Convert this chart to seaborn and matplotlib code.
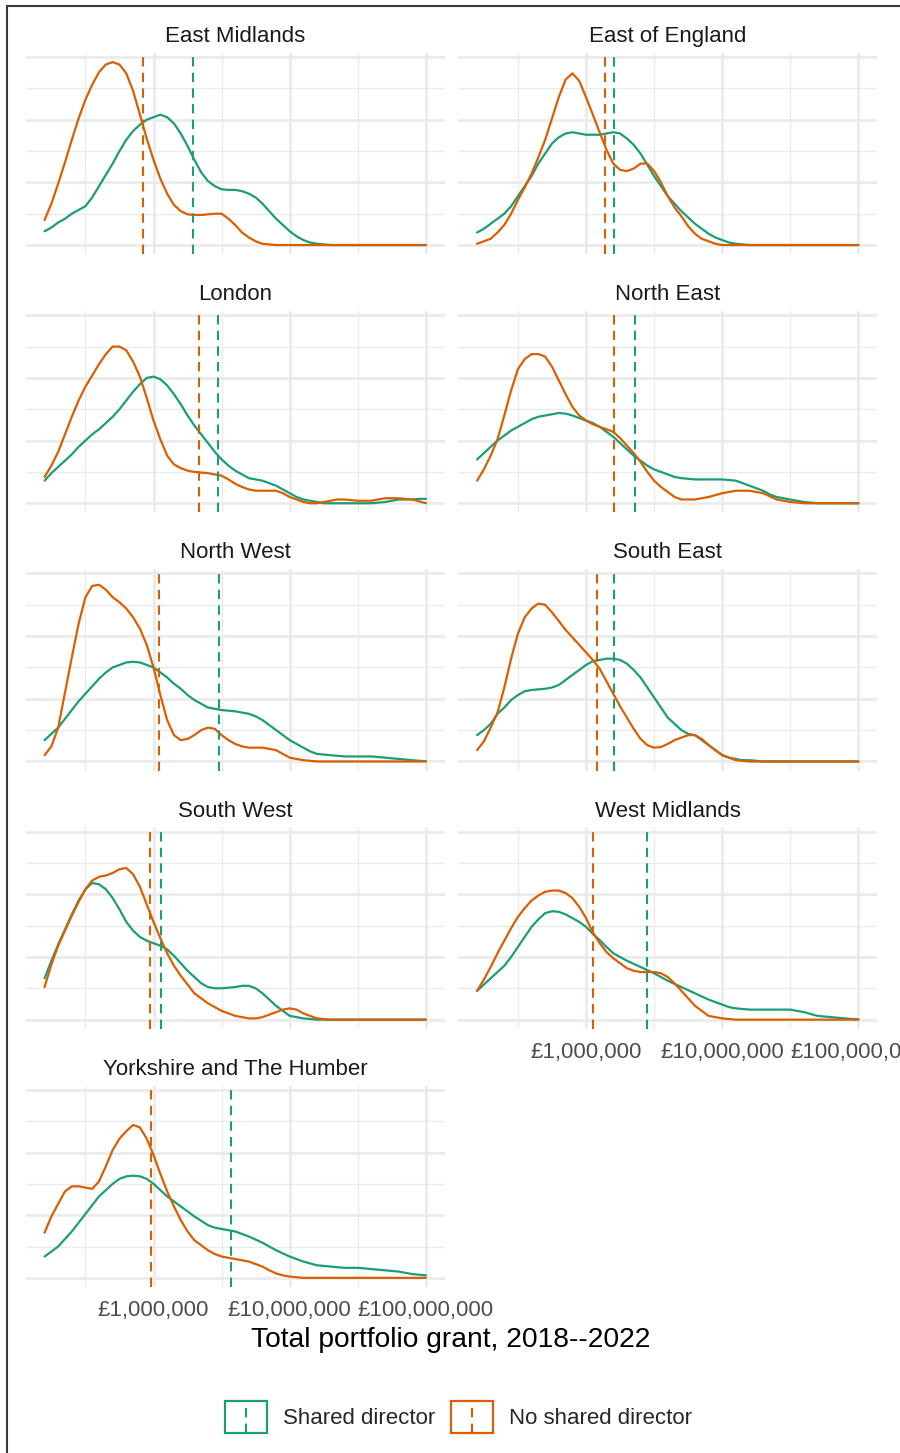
import matplotlib
matplotlib.use("Agg")
import matplotlib.pyplot as plt
import pandas as pd
import seaborn as sns
from matplotlib.ticker import FixedLocator, FuncFormatter, NullFormatter, MultipleLocator
from matplotlib.patches import Rectangle
from matplotlib.lines import Line2D
from matplotlib.legend_handler import HandlerBase

# ---------------------------------------------------------------------------
# Data: kernel density of log10(total portfolio grant) per region and group,
# evaluated on a common log10 grid, plus the group medians (in pounds).
# ---------------------------------------------------------------------------
log_grant = [5.20, 5.25, 5.30, 5.35, 5.40, 5.45, 5.50, 5.55, 5.60, 5.65,
             5.70, 5.75, 5.80, 5.85, 5.90, 5.95, 6.00, 6.05, 6.10, 6.15,
             6.20, 6.25, 6.30, 6.35, 6.40, 6.45, 6.50, 6.55, 6.60, 6.65,
             6.70, 6.75, 6.80, 6.85, 6.90, 6.95, 7.00, 7.05, 7.10, 7.15,
             7.20, 7.25, 7.30, 7.35, 7.40, 7.45, 7.50, 7.55, 7.60, 7.65,
             7.70, 7.75, 7.80, 7.85, 7.90, 7.95, 8.00]

regions = ["East Midlands", "East of England", "London", "North East", "North West",
           "South East", "South West", "West Midlands", "Yorkshire and The Humber"]

groups = ["Shared director", "No shared director"]
colours = {"Shared director": "#1B9E77", "No shared director": "#D95F02"}

east_midlands_shared = [0.11, 0.14, 0.18, 0.21, 0.25, 0.28, 0.31, 0.38, 0.47, 0.56,
                        0.65, 0.75, 0.84, 0.91, 0.96, 1.00, 1.02, 1.04, 1.02, 0.97,
                        0.89, 0.79, 0.68, 0.58, 0.51, 0.47, 0.445, 0.44, 0.44, 0.43,
                        0.41, 0.38, 0.33, 0.27, 0.21, 0.16, 0.11, 0.07, 0.04, 0.02,
                        0.01, 0.005, 0, 0, 0, 0, 0, 0, 0, 0,
                        0, 0, 0, 0, 0, 0, 0]
east_midlands_none = [0.20, 0.33, 0.49, 0.66, 0.84, 1.01, 1.16, 1.28, 1.38, 1.44,
                      1.46, 1.44, 1.37, 1.23, 1.04, 0.85, 0.68, 0.53, 0.41, 0.32,
                      0.27, 0.245, 0.24, 0.24, 0.245, 0.25, 0.25, 0.21, 0.16, 0.10,
                      0.06, 0.03, 0.01, 0.005, 0, 0, 0, 0, 0, 0,
                      0, 0, 0, 0, 0, 0, 0, 0, 0, 0,
                      0, 0, 0, 0, 0, 0, 0]

east_england_shared = [0.10, 0.13, 0.17, 0.21, 0.25, 0.31, 0.39, 0.47, 0.55, 0.65,
                       0.73, 0.81, 0.86, 0.89, 0.90, 0.89, 0.88, 0.88, 0.88, 0.89,
                       0.90, 0.89, 0.85, 0.80, 0.73, 0.64, 0.55, 0.47, 0.39, 0.33,
                       0.27, 0.22, 0.17, 0.13, 0.09, 0.06, 0.04, 0.02, 0.01, 0.005,
                       0, 0, 0, 0, 0, 0, 0, 0, 0, 0,
                       0, 0, 0, 0, 0, 0, 0]
east_england_none = [0.01, 0.03, 0.05, 0.10, 0.16, 0.25, 0.36, 0.46, 0.57, 0.70,
                     0.84, 1.01, 1.18, 1.32, 1.37, 1.31, 1.18, 1.04, 0.90, 0.76,
                     0.65, 0.60, 0.59, 0.61, 0.65, 0.65, 0.59, 0.50, 0.39, 0.30,
                     0.23, 0.15, 0.09, 0.05, 0.03, 0.01, 0, 0, 0, 0,
                     0, 0, 0, 0, 0, 0, 0, 0, 0, 0,
                     0, 0, 0, 0, 0, 0, 0]

london_shared = [0.18, 0.24, 0.29, 0.34, 0.39, 0.45, 0.50, 0.55, 0.59, 0.64,
                 0.69, 0.75, 0.82, 0.89, 0.95, 1.00, 1.01, 0.99, 0.94, 0.87,
                 0.79, 0.70, 0.62, 0.55, 0.48, 0.41, 0.35, 0.30, 0.26, 0.23,
                 0.20, 0.19, 0.18, 0.16, 0.14, 0.11, 0.08, 0.05, 0.03, 0.02,
                 0.01, 0.00, 0.00, 0.00, 0.00, 0.00, 0.00, 0.00, 0.00, 0.005,
                 0.01, 0.02, 0.03, 0.03, 0.03, 0.035, 0.035]
london_none = [0.21, 0.30, 0.41, 0.55, 0.69, 0.82, 0.93, 1.02, 1.11, 1.19,
               1.25, 1.25, 1.22, 1.13, 1.01, 0.84, 0.66, 0.51, 0.38, 0.31,
               0.28, 0.26, 0.25, 0.245, 0.24, 0.23, 0.22, 0.19, 0.155, 0.13,
               0.11, 0.10, 0.10, 0.10, 0.10, 0.08, 0.05, 0.03, 0.01, 0.00,
               0.00, 0.01, 0.02, 0.03, 0.03, 0.025, 0.02, 0.02, 0.02, 0.03,
               0.04, 0.04, 0.04, 0.035, 0.03, 0.015, 0.00]

north_east_shared = [0.35, 0.40, 0.45, 0.50, 0.54, 0.58, 0.61, 0.64, 0.67, 0.69,
                     0.70, 0.71, 0.72, 0.715, 0.70, 0.68, 0.66, 0.64, 0.61, 0.57,
                     0.53, 0.48, 0.43, 0.38, 0.34, 0.30, 0.27, 0.25, 0.23, 0.21,
                     0.20, 0.195, 0.19, 0.19, 0.19, 0.19, 0.19, 0.185, 0.18, 0.16,
                     0.14, 0.12, 0.10, 0.07, 0.05, 0.04, 0.03, 0.02, 0.01, 0.005,
                     0, 0, 0, 0, 0, 0, 0]
north_east_none = [0.18, 0.27, 0.38, 0.51, 0.70, 0.90, 1.07, 1.15, 1.19, 1.19,
                   1.17, 1.09, 0.98, 0.87, 0.77, 0.70, 0.66, 0.63, 0.61, 0.59,
                   0.57, 0.52, 0.46, 0.40, 0.33, 0.25, 0.18, 0.13, 0.09, 0.05,
                   0.03, 0.03, 0.03, 0.04, 0.05, 0.065, 0.08, 0.09, 0.10, 0.10,
                   0.10, 0.09, 0.08, 0.055, 0.03, 0.02, 0.01, 0.005, 0, 0,
                   0, 0, 0, 0, 0, 0, 0]

north_west_shared = [0.17, 0.22, 0.27, 0.34, 0.41, 0.48, 0.54, 0.60, 0.66, 0.71,
                     0.75, 0.77, 0.79, 0.795, 0.79, 0.77, 0.75, 0.71, 0.67, 0.62,
                     0.58, 0.53, 0.49, 0.46, 0.43, 0.42, 0.41, 0.405, 0.40, 0.39,
                     0.38, 0.36, 0.33, 0.29, 0.25, 0.21, 0.17, 0.14, 0.11, 0.08,
                     0.06, 0.055, 0.05, 0.045, 0.04, 0.04, 0.04, 0.04, 0.04, 0.035,
                     0.03, 0.025, 0.02, 0.015, 0.01, 0.005, 0.003]
north_west_none = [0.05, 0.12, 0.27, 0.55, 0.83, 1.10, 1.31, 1.40, 1.41, 1.37,
                   1.31, 1.27, 1.22, 1.15, 1.06, 0.93, 0.75, 0.53, 0.33, 0.21,
                   0.17, 0.18, 0.21, 0.25, 0.27, 0.26, 0.21, 0.17, 0.14, 0.12,
                   0.11, 0.11, 0.11, 0.10, 0.09, 0.06, 0.03, 0.02, 0.01, 0.005,
                   0, 0, 0, 0, 0, 0, 0, 0, 0, 0,
                   0, 0, 0, 0, 0, 0, 0]

south_east_shared = [0.21, 0.25, 0.30, 0.38, 0.43, 0.49, 0.53, 0.56, 0.57, 0.575,
                     0.58, 0.59, 0.61, 0.65, 0.69, 0.73, 0.77, 0.80, 0.81, 0.82,
                     0.82, 0.81, 0.78, 0.73, 0.67, 0.59, 0.51, 0.43, 0.35, 0.30,
                     0.25, 0.22, 0.21, 0.17, 0.13, 0.09, 0.05, 0.03, 0.02, 0.01,
                     0.01, 0.005, 0, 0, 0, 0, 0, 0, 0, 0,
                     0, 0, 0, 0, 0, 0, 0]
south_east_none = [0.09, 0.16, 0.27, 0.39, 0.59, 0.82, 1.02, 1.15, 1.22, 1.26,
                   1.25, 1.19, 1.12, 1.05, 0.99, 0.93, 0.87, 0.81, 0.74, 0.64,
                   0.54, 0.44, 0.35, 0.26, 0.18, 0.13, 0.11, 0.115, 0.14, 0.17,
                   0.19, 0.21, 0.21, 0.18, 0.13, 0.09, 0.05, 0.03, 0.01, 0.005,
                   0, 0, 0, 0, 0, 0, 0, 0, 0, 0,
                   0, 0, 0, 0, 0, 0, 0]

south_west_shared = [0.33, 0.47, 0.60, 0.72, 0.84, 0.95, 1.04, 1.09, 1.08, 1.04,
                     0.97, 0.88, 0.78, 0.71, 0.66, 0.63, 0.61, 0.59, 0.56, 0.51,
                     0.45, 0.39, 0.34, 0.29, 0.26, 0.25, 0.25, 0.255, 0.26, 0.27,
                     0.27, 0.25, 0.21, 0.16, 0.11, 0.07, 0.03, 0.02, 0.01, 0.005,
                     0, 0, 0, 0, 0, 0, 0, 0, 0, 0,
                     0, 0, 0, 0, 0, 0, 0]
south_west_none = [0.26, 0.44, 0.59, 0.71, 0.83, 0.94, 1.04, 1.11, 1.14, 1.15,
                   1.17, 1.20, 1.21, 1.16, 1.06, 0.92, 0.78, 0.65, 0.53, 0.43,
                   0.35, 0.28, 0.21, 0.17, 0.13, 0.10, 0.07, 0.05, 0.03, 0.02,
                   0.01, 0.01, 0.02, 0.04, 0.06, 0.08, 0.09, 0.08, 0.05, 0.03,
                   0.01, 0.005, 0, 0, 0, 0, 0, 0, 0, 0,
                   0, 0, 0, 0, 0, 0, 0]

west_midlands_shared = [0.23, 0.28, 0.33, 0.38, 0.43, 0.50, 0.58, 0.66, 0.74, 0.80,
                        0.85, 0.865, 0.86, 0.84, 0.81, 0.78, 0.74, 0.685, 0.635, 0.58,
                        0.53, 0.50, 0.47, 0.445, 0.42, 0.395, 0.37, 0.34, 0.31, 0.285,
                        0.26, 0.235, 0.21, 0.185, 0.16, 0.14, 0.12, 0.10, 0.09, 0.085,
                        0.08, 0.08, 0.08, 0.08, 0.08, 0.08, 0.08, 0.07, 0.06, 0.045,
                        0.03, 0.025, 0.02, 0.015, 0.01, 0.005, 0.003]
west_midlands_none = [0.23, 0.32, 0.42, 0.53, 0.63, 0.73, 0.82, 0.89, 0.95, 0.99,
                      1.02, 1.03, 1.03, 1.01, 0.97, 0.90, 0.81, 0.695, 0.61, 0.54,
                      0.49, 0.45, 0.41, 0.39, 0.38, 0.38, 0.38, 0.37, 0.34, 0.29,
                      0.23, 0.17, 0.11, 0.07, 0.03, 0.02, 0.01, 0.005, 0, 0,
                      0, 0, 0, 0, 0, 0, 0, 0, 0, 0,
                      0, 0, 0, 0, 0, 0, 0]

yorkshire_shared = [0.17, 0.21, 0.25, 0.31, 0.37, 0.44, 0.51, 0.58, 0.65, 0.70,
                    0.75, 0.79, 0.81, 0.815, 0.81, 0.79, 0.75, 0.70, 0.65, 0.61,
                    0.57, 0.53, 0.49, 0.455, 0.42, 0.40, 0.39, 0.38, 0.37, 0.35,
                    0.33, 0.305, 0.28, 0.25, 0.22, 0.195, 0.17, 0.15, 0.13, 0.115,
                    0.10, 0.095, 0.09, 0.085, 0.08, 0.08, 0.08, 0.075, 0.07, 0.065,
                    0.06, 0.055, 0.05, 0.04, 0.03, 0.025, 0.02]
yorkshire_none = [0.36, 0.49, 0.59, 0.69, 0.73, 0.73, 0.72, 0.71, 0.77, 0.89,
                  1.02, 1.11, 1.17, 1.22, 1.20, 1.11, 0.98, 0.83, 0.69, 0.57,
                  0.46, 0.37, 0.30, 0.26, 0.22, 0.19, 0.17, 0.16, 0.15, 0.14,
                  0.13, 0.11, 0.09, 0.06, 0.035, 0.02, 0.01, 0.005, 0, 0,
                  0, 0, 0, 0, 0, 0, 0, 0, 0, 0,
                  0, 0, 0, 0, 0, 0, 0]

median_shared = [1940000, 1600000, 2960000, 2290000, 3010000, 1610000, 1130000, 2820000, 3710000]
median_none = [830000, 1380000, 2150000, 1610000, 1090000, 1200000, 945000, 1130000, 960000]

density_shared = [east_midlands_shared, east_england_shared, london_shared, north_east_shared,
                  north_west_shared, south_east_shared, south_west_shared, west_midlands_shared,
                  yorkshire_shared]
density_none = [east_midlands_none, east_england_none, london_none, north_east_none,
                north_west_none, south_east_none, south_west_none, west_midlands_none,
                yorkshire_none]

# Long table for seaborn
rows = []
for region, dens_s, dens_n in zip(regions, density_shared, density_none):
    for group, dens in (("Shared director", dens_s), ("No shared director", dens_n)):
        for lg, d in zip(log_grant, dens):
            rows.append({"region": region, "group": group, "grant": 10 ** lg, "density": d})
df = pd.DataFrame(rows)

medians = pd.DataFrame({"region": regions, "Shared director": median_shared,
                        "No shared director": median_none}).set_index("region")

# ---------------------------------------------------------------------------
# Styling
# ---------------------------------------------------------------------------
sns.set_style("white")
plt.rcParams["font.family"] = ["Liberation Sans", "DejaVu Sans"]

W, H = 900, 1453
fig = plt.figure(figsize=(W / 100, H / 100), dpi=100)
fig.patch.set_facecolor("white")

# shared scales (fixed facets), with 5% expansion like ggplot
lo, hi = min(log_grant), max(log_grant)
span = hi - lo
xlim = (10 ** (lo - 0.05 * span), 10 ** (hi + 0.05 * span))
ymax = df["density"].max()
ylim = (-0.05 * ymax, 1.05 * ymax)

col_left = [25.5, 458.0]
panel_w = 419.5
panel_h = 201.3
row_top0 = 52.9
row_step = 258.2

GRID = "#EBEBEB"
dash = (0, (4.5, 3))


def rect(left, top, width, height):
    return [left / W, 1 - (top + height) / H, width / W, height / H]


pound_fmt = FuncFormatter(lambda v, pos: "£{:,.0f}".format(v))

for i, region in enumerate(regions):
    r, c = divmod(i, 2)
    ax = fig.add_axes(rect(col_left[c], row_top0 + r * row_step, panel_w, panel_h))
    sub = df[df["region"] == region]
    sns.lineplot(data=sub, x="grant", y="density", hue="group", hue_order=groups,
                 palette=colours, estimator=None, linewidth=1.6, legend=False, ax=ax)
    for g in groups:
        ax.axvline(medians.loc[region, g], color=colours[g], lw=1.5, linestyle=dash)

    ax.set_xscale("log")
    ax.set_xlim(*xlim)
    ax.set_ylim(*ylim)
    ax.set_xlabel("")
    ax.set_ylabel("")

    ax.xaxis.set_major_locator(FixedLocator([1e6, 1e7, 1e8]))
    ax.xaxis.set_minor_locator(FixedLocator([10 ** 5.5, 10 ** 6.5, 10 ** 7.5]))
    ax.xaxis.set_major_formatter(pound_fmt)
    ax.xaxis.set_minor_formatter(NullFormatter())
    ax.yaxis.set_major_locator(MultipleLocator(0.5))
    ax.yaxis.set_minor_locator(MultipleLocator(0.25))

    ax.grid(True, which="major", color=GRID, lw=2.0)
    ax.grid(True, which="minor", color=GRID, lw=1.0)
    ax.set_axisbelow(True)
    for s in ax.spines.values():
        s.set_visible(False)

    show_x = region in ("West Midlands", "Yorkshire and The Humber")
    ax.tick_params(axis="x", which="both", length=0, labelsize=16, labelcolor="#4D4D4D",
                   pad=9.6, labelbottom=show_x)
    ax.tick_params(axis="y", which="both", length=0, labelleft=False)
    ax.set_title(region, fontsize=16, color="#1A1A1A", pad=7.9)

fig.text(451 / W, 1 - 1347 / H, "Total portfolio grant, 2018--2022",
         ha="center", va="baseline", fontsize=20.3, color="black")


class KeyHandler(HandlerBase):
    def create_artists(self, legend, orig_handle, xdescent, ydescent, width, height,
                       fontsize, trans):
        col = orig_handle.get_color()
        box = Rectangle((-xdescent, -ydescent), width, height, facecolor="white",
                        edgecolor=col, lw=1.6, transform=trans)
        mid = -xdescent + width / 2
        ln = Line2D([mid, mid], [-ydescent, -ydescent + height], color=col, lw=1.5,
                    linestyle=dash, transform=trans)
        return [box, ln]


handles = [Line2D([], [], color=colours[g]) for g in groups]
fig.legend(handles, groups, handler_map={Line2D: KeyHandler()}, loc="center",
           bbox_to_anchor=(458.5 / W, 1 - 1417 / H), ncol=2, frameon=False, fontsize=16,
           handlelength=1.9, handleheight=1.9, handletextpad=0.72, columnspacing=0.72)

# outer frame (top and left edges)
fig.add_artist(Line2D([6.5 / W, 1.0], [1 - 5.7 / H] * 2, transform=fig.transFigure,
                      color="#3A3A3A", lw=1.5))
fig.add_artist(Line2D([6.7 / W] * 2, [0.0, 1 - 5.7 / H], transform=fig.transFigure,
                      color="#3A3A3A", lw=1.5))

fig.savefig("out.png", dpi=100, facecolor="white")
